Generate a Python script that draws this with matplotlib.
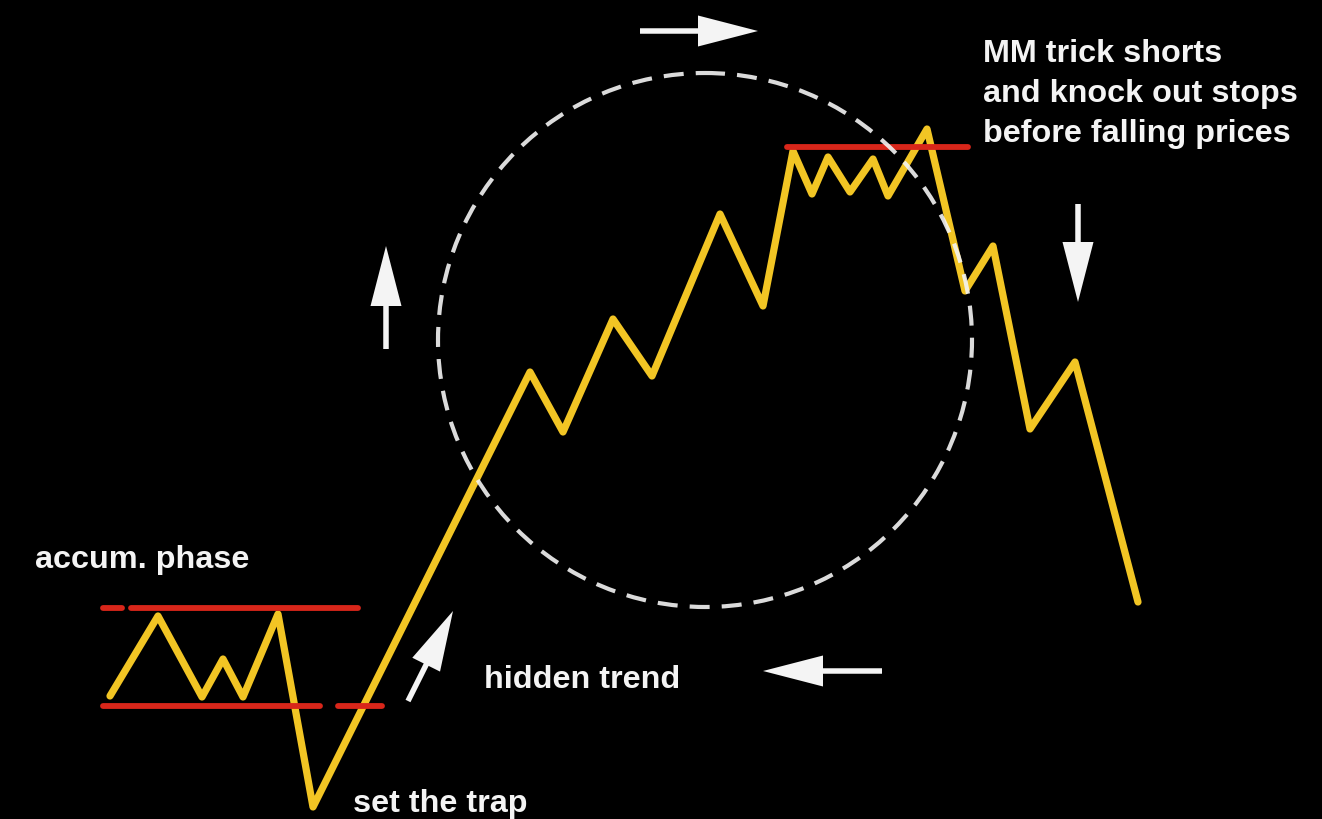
import matplotlib
matplotlib.use("Agg")
import matplotlib.pyplot as plt
from matplotlib.patches import Circle, FancyArrow

# ---- data (pixel coordinates of the sketch, y grows downward) ----
price_x = [110, 158, 202, 223, 243, 278, 313, 530, 563, 613, 652, 720, 763,
           793, 812, 828, 850, 873, 888, 927, 965, 993, 1030, 1075, 1138]
price_y = [697, 617, 698, 660, 698, 615, 808, 373, 433, 320, 377, 215, 307,
           152, 195, 158, 193, 160, 197, 130, 292, 247, 430, 363, 603]

# horizontal red levels: (y, x_start, x_end)
level_y = [609, 609, 707, 707, 148]
level_x0 = [103, 131, 103, 338, 787]
level_x1 = [122, 358, 320, 382, 968]

circle_center = (705, 341)
circle_radius = 267

# arrows: tail -> tip
arrow_tail = [(640, 32), (386, 350), (1078, 205), (882, 672), (408, 702)]
arrow_tip = [(758, 32), (386, 247), (1078, 303), (763, 672), (453, 612)]

labels = ["accum. phase", "hidden trend", "set the trap",
          "MM trick shorts", "and knock out stops", "before falling prices"]
label_x = [35, 484, 353, 983, 983, 983]
label_y = [568, 688, 812, 62, 102, 142]

W, H = 1322, 820
fig = plt.figure(figsize=(W / 100, H / 100), dpi=100, facecolor="black")
ax = fig.add_axes([0, 0, 1, 1])
ax.set_facecolor("black")
ax.set_xlim(0, W)
ax.set_ylim(H, 0)
ax.axis("off")

yellow = "#f2c524"
red = "#d8261a"
white = "#f4f4f4"

ax.plot(price_x, price_y, color=yellow, lw=5.2, solid_joinstyle="round",
        solid_capstyle="round", zorder=2)

for y, x0, x1 in zip(level_y, level_x0, level_x1):
    ax.plot([x0, x1], [y, y], color=red, lw=4.2, solid_capstyle="round", zorder=3)

circ = Circle(circle_center, circle_radius, fill=False, edgecolor=white,
              lw=3.0, linestyle=(0, (4.8, 2.9)), alpha=0.9, zorder=4)
ax.add_patch(circ)

for (tx, ty), (hx, hy) in zip(arrow_tail, arrow_tip):
    arr = FancyArrow(tx, ty, hx - tx, hy - ty, width=5.5, head_width=31,
                     head_length=60, length_includes_head=True,
                     color=white, lw=0, zorder=5)
    ax.add_patch(arr)

for t, x, y in zip(labels, label_x, label_y):
    ax.text(x, y, t, color=white, fontsize=23.3, fontweight="bold",
            family="Liberation Sans", ha="left", va="baseline", zorder=6)

fig.savefig("out.png", dpi=100, facecolor="black")
